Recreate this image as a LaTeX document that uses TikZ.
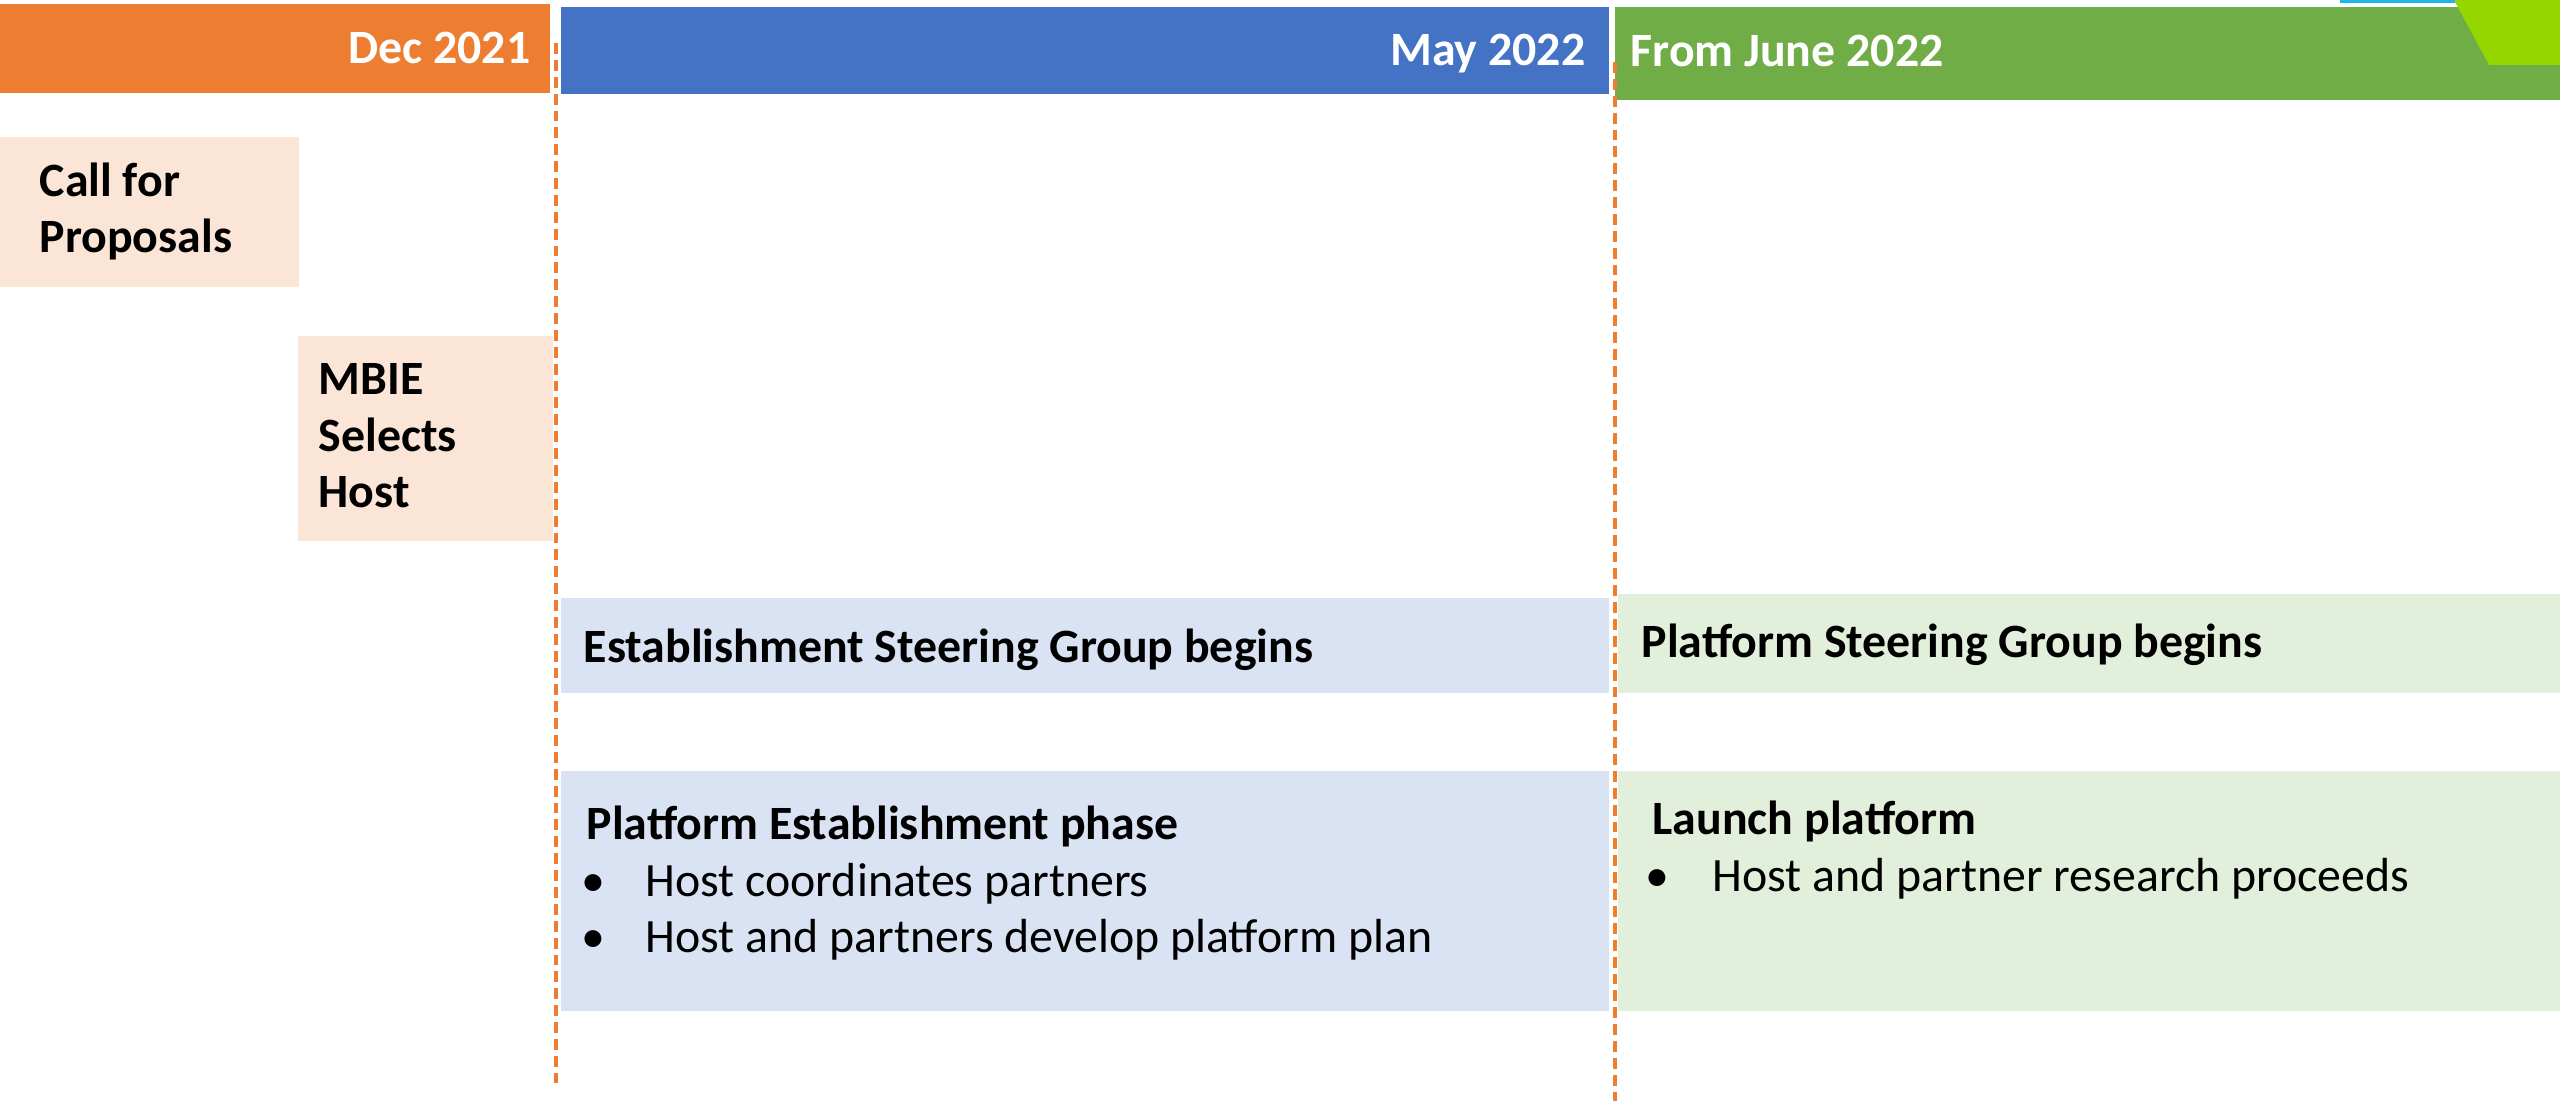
\documentclass[tikz,border=0pt]{standalone}
\usepackage{fontspec}
\setmainfont{Carlito}
\definecolor{decorange}{HTML}{ED7D31}
\definecolor{mayblue}{HTML}{4472C4}
\definecolor{junegreen}{HTML}{70AD47}
\definecolor{limegreen}{HTML}{96D600}
\definecolor{topcyan}{HTML}{1FB5E8}
\definecolor{paleorange}{HTML}{FBE5D6}
\definecolor{paleblue}{HTML}{DAE3F3}
\definecolor{palegreen}{HTML}{E2EFDA}

\begin{document}
\begin{tikzpicture}[
    x=0.01cm, y=-0.01cm,
    every node/.style={inner sep=0pt, font=\fontsize{13.6}{16.2}\selectfont},
    headtext/.style={anchor=base, font=\fontsize{13.6}{16.2}\selectfont\bfseries, text=white},
    boldtext/.style={anchor=base west, align=left, font=\fontsize{13.6}{16.2}\selectfont\bfseries},
    itemtext/.style={anchor=base west},
    bulletdot/.style={anchor=base},
    datelink/.style={decorange, line width=0.9pt, dash pattern=on 3.1pt off 1.7pt}
]
\useasboundingbox[fill=white] (0,0) rectangle (2560,1101);
% header bars
\fill[decorange] (0,4) rectangle (550,93);
\fill[mayblue] (561,7) rectangle (1609,94);
\fill[junegreen] (1615,7) rectangle (2560,100);
\fill[limegreen] (2454,0) -- (2560,0) -- (2560,65) -- (2489,65) -- cycle;
\fill[topcyan] (2340,0) rectangle (2455,3);
\node[headtext, anchor=base east] (dec) at (531,64) {Dec 2021};
\node[headtext, anchor=base east] (may) at (1586,66) {May 2022};
\node[headtext, anchor=base west] (june) at (1630,67) {From June 2022};
% Dec 2021 column (multi-line nodes sit on their last line)
\fill[paleorange] (0,137) rectangle (299,287);
\node[boldtext] (call) at (39,253) {Call for\\Proposals};
\fill[paleorange] (298,336) rectangle (553,541);
\node[boldtext] (mbie) at (318,508) {MBIE\\Selects\\Host};
% May 2022 column
\fill[paleblue] (561,598) rectangle (1609,693);
\node[boldtext] (estgroup) at (583,663) {Establishment Steering Group begins};
\fill[paleblue] (561,771) rectangle (1609,1011);
\node[boldtext] (estphase) at (586,840) {Platform Establishment phase};
\node[bulletdot] (estdot1) at (593,897) {•};
\node[itemtext] (estitem1) at (645,897) {Host coordinates partners};
\node[bulletdot] (estdot2) at (593,953) {•};
\node[itemtext] (estitem2) at (645,953) {Host and partners develop platform plan};
% From June 2022 column
\fill[palegreen] (1618,594) rectangle (2560,693);
\node[boldtext] (platgroup) at (1641,658) {Platform Steering Group begins};
\fill[palegreen] (1618,771) rectangle (2560,1011);
\node[boldtext] (launch) at (1652,835) {Launch platform};
\node[bulletdot] (launchdot) at (1657,892) {•};
\node[itemtext] (launchitem) at (1712,892) {Host and partner research proceeds};
% date dividers
\draw[datelink] (556,43) -- (556,1083);
\draw[datelink] (1615,62) -- (1615,1101);
\end{tikzpicture}
\end{document}
